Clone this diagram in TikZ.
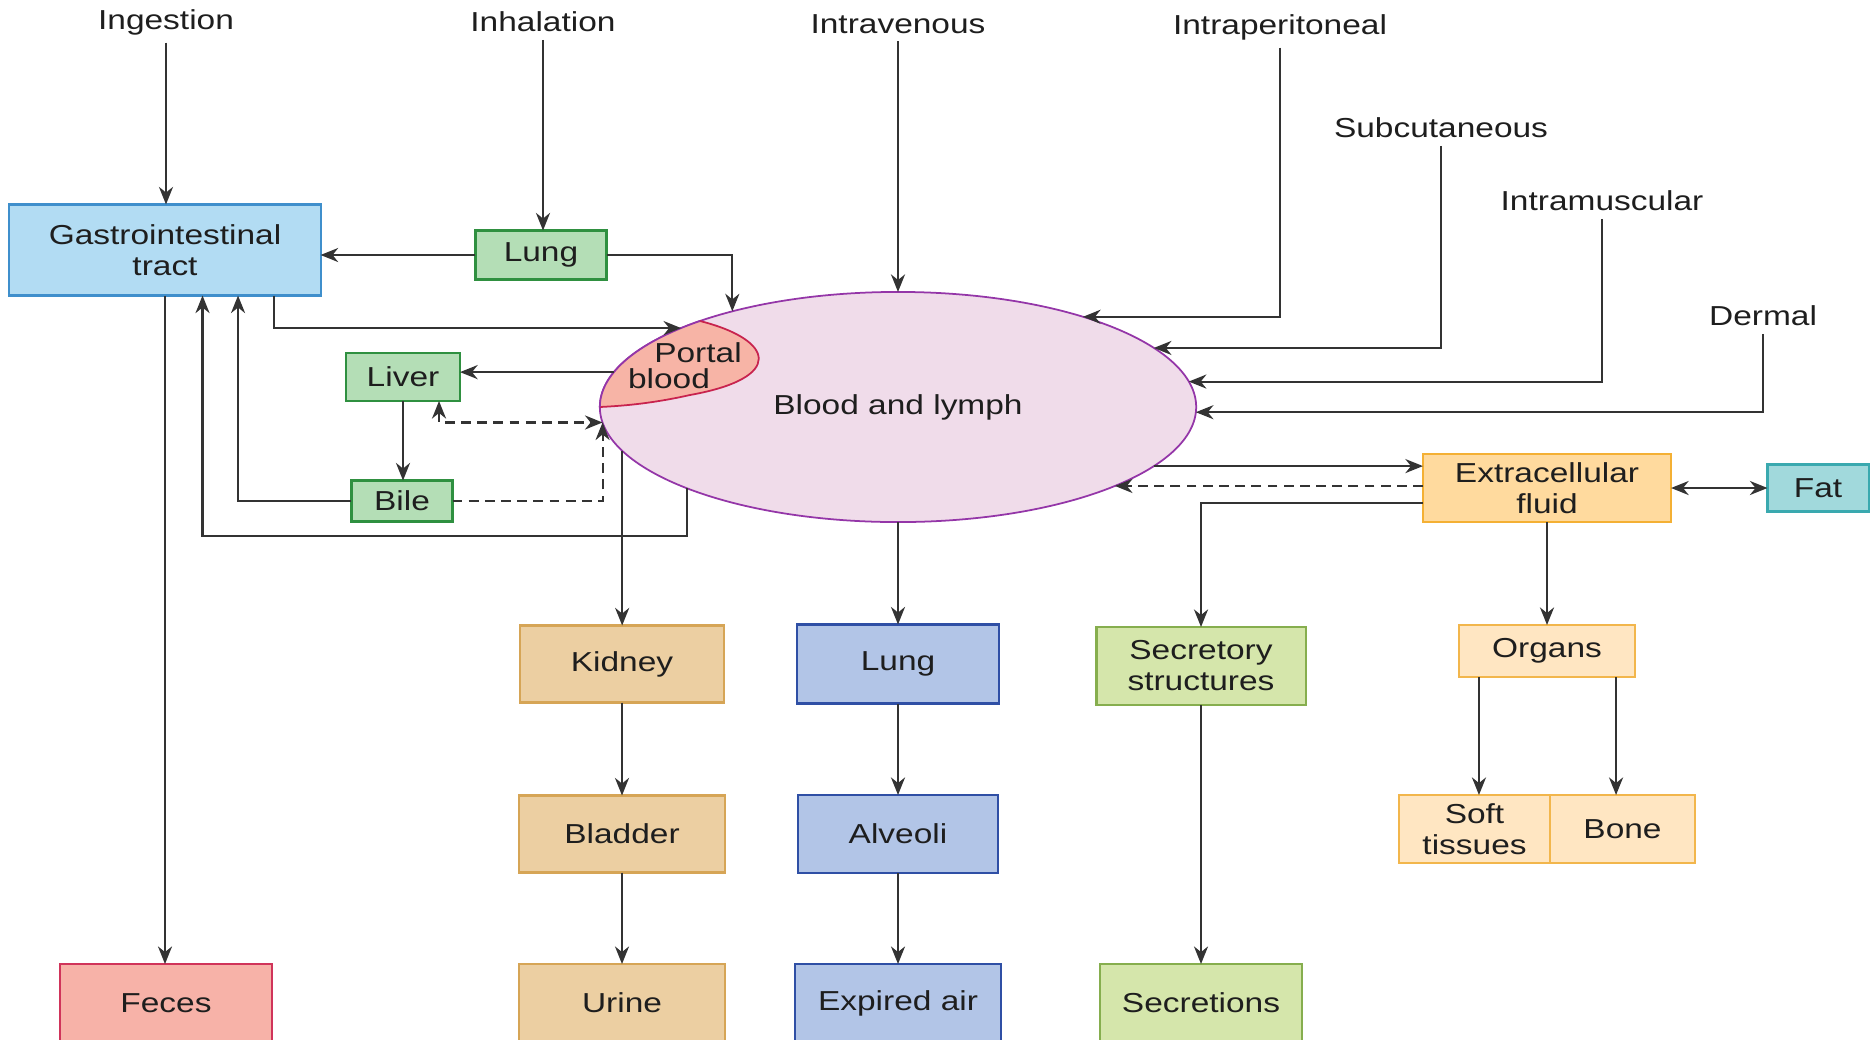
\documentclass[tikz,border=0pt]{standalone}
\usepackage{fontspec}
\setmainfont[FakeStretch=1.22]{Liberation Sans}
\usetikzlibrary{arrows.meta,shapes.geometric}

\definecolor{txt}{HTML}{1E1E1E}
\definecolor{wire}{HTML}{333333}
\definecolor{gifill}{HTML}{B2DCF3}
\definecolor{gidraw}{HTML}{3F8FCC}
\definecolor{greenfill}{HTML}{B4DEB6}
\definecolor{greendraw}{HTML}{2F9040}
\definecolor{bloodfill}{HTML}{F0DCEA}
\definecolor{blooddraw}{HTML}{9436A8}
\definecolor{portalfill}{HTML}{F7B4A6}
\definecolor{portaldraw}{HTML}{C8234E}
\definecolor{ecffill}{HTML}{FFDA9E}
\definecolor{ecfdraw}{HTML}{F4B034}
\definecolor{fatfill}{HTML}{A1D9DC}
\definecolor{fatdraw}{HTML}{3AA9AF}
\definecolor{kidfill}{HTML}{ECCFA2}
\definecolor{kiddraw}{HTML}{D6A556}
\definecolor{lungfill}{HTML}{B2C5E7}
\definecolor{lungdraw}{HTML}{2F4FA5}
\definecolor{secfill}{HTML}{D5E6AB}
\definecolor{secdraw}{HTML}{86AE4E}
\definecolor{orgfill}{HTML}{FFE6C2}
\definecolor{orgdraw}{HTML}{F2B64C}
\definecolor{fecfill}{HTML}{F7B2A8}
\definecolor{fecdraw}{HTML}{D0345A}

\newcommand{\diagfont}{\fontsize{7.8pt}{8.8pt}\selectfont}

\tikzset{
        lbl/.style={font=\diagfont, text=txt, inner sep=2pt, align=center},
        box/.style={draw, line width=0.6pt, outer sep=0pt, inner sep=1pt,
            font=\diagfont, text=txt, align=center},
        gibox/.style={box, fill=gifill, draw=gidraw},
        greenbox/.style={box, fill=greenfill, draw=greendraw},
        ecfbox/.style={box, fill=ecffill, draw=ecfdraw},
        fatbox/.style={box, fill=fatfill, draw=fatdraw},
        kidbox/.style={box, fill=kidfill, draw=kiddraw},
        lungbox/.style={box, fill=lungfill, draw=lungdraw},
        secbox/.style={box, fill=secfill, draw=secdraw},
        orgbox/.style={box, fill=orgfill, draw=orgdraw},
        fecbox/.style={box, fill=fecfill, draw=fecdraw},
        arr/.style={draw=wire, line width=0.6pt,
            -{Stealth[length=5pt,width=4pt,inset=1.6pt]}},
        twoarr/.style={draw=wire, line width=0.6pt,
            {Stealth[length=5pt,width=4pt,inset=1.6pt]}-{Stealth[length=5pt,width=4pt,inset=1.6pt]}},
        dashline/.style={dash pattern=on 2.8pt off 1.8pt}
}

\begin{document}
\begin{tikzpicture}[x=0.01cm, y=-0.01cm]
        \useasboundingbox (0,0) rectangle (1870,1039);

        % routes of entry
        \node[lbl] (ingestion) at (166,22) {Ingestion};
        \node[lbl] (inhalation) at (543,22) {Inhalation};
        \node[lbl] (intravenous) at (898,24) {Intravenous};
        \node[lbl] (intraperitoneal) at (1280,27) {Intraperitoneal};
        \node[lbl] (subcutaneous) at (1441,128) {Subcutaneous};
        \node[lbl] (intramuscular) at (1602,201) {Intramuscular};
        \node[lbl] (dermal) at (1763,316) {Dermal};

        \node[gibox, minimum width=3.11cm, minimum height=0.91cm] (gi) at (165,250) {Gastrointestinal\\tract};
        \node[greenbox, minimum width=1.31cm, minimum height=0.49cm] (lungin) at (541,255) {Lung};
        \node[greenbox, minimum width=1.14cm, minimum height=0.48cm] (liver) at (403,377) {Liver};
        \node[greenbox, minimum width=1.01cm, minimum height=0.41cm] (bile) at (402,501) {Bile};

        \node[ellipse, draw=blooddraw, fill=bloodfill, line width=0.5pt, minimum width=5.96cm,
            minimum height=2.30cm, inner sep=0pt, outer sep=0pt, font=\diagfont, text=txt] (blood) at (898,407) {Blood and lymph};
        \fill[portalfill] (blood.west) arc[start angle=180, end angle=131.6, x radius=2.98cm, y radius=1.15cm]
            .. controls (775,340) and (785,378) .. (690,395) .. controls (650,404) and (620,406) .. (blood.west);
        \draw[portaldraw, line width=0.5pt] (700,321) .. controls (775,340) and (785,378) .. (690,395)
            .. controls (650,404) and (620,406) .. (blood.west);
        \draw[blooddraw, line width=0.5pt] (blood.west) arc[start angle=180, end angle=131.6, x radius=2.98cm, y radius=1.15cm];
        \node[lbl] (portaltop) at (698,353) {Portal};
        \node[lbl] (portalbot) at (669,379) {blood};

        \node[ecfbox, minimum width=2.48cm, minimum height=0.68cm] (ecf) at (1547,488) {Extracellular\\fluid};
        \node[fatbox, minimum width=1.01cm, minimum height=0.47cm] (fat) at (1818,488) {Fat};

        % distribution and excretion
        \node[kidbox, minimum width=2.04cm, minimum height=0.77cm] (kidney) at (622,664) {Kidney};
        \node[lungbox, minimum width=2.02cm, minimum height=0.79cm] (lungout) at (898,664) {Lung};
        \node[secbox, minimum width=2.09cm, minimum height=0.78cm] (secr) at (1201,666) {Secretory\\structures};
        \node[orgbox, minimum width=1.76cm, minimum height=0.52cm] (organs) at (1547,651) {Organs};
        \node[kidbox, minimum width=2.06cm, minimum height=0.77cm] (bladder) at (622,834) {Bladder};
        \node[lungbox, minimum width=2.00cm, minimum height=0.78cm] (alveoli) at (898,834) {Alveoli};
        \node[orgbox, minimum width=1.51cm, minimum height=0.68cm] (soft) at (1474.5,829) {Soft\\tissues};
        \node[orgbox, minimum width=1.45cm, minimum height=0.68cm] (bone) at (1622.5,829) {Bone};
        \node[fecbox, anchor=north, minimum width=2.12cm, minimum height=0.78cm] (feces) at (166,964) {Feces};
        \node[kidbox, anchor=north, minimum width=2.06cm, minimum height=0.78cm] (urine) at (622,964) {Urine};
        \node[lungbox, anchor=north, minimum width=2.06cm, minimum height=0.78cm] (expired) at (898,964) {Expired air};
        \node[secbox, anchor=north, minimum width=2.02cm, minimum height=0.78cm] (secretions) at (1201,964) {Secretions};

        \draw[arr] (ingestion.south) -- (ingestion.south |- gi.north);
        \draw[arr] (inhalation.south) -- (inhalation.south |- lungin.north);
        \draw[arr] (intravenous.south) -- (blood.north);
        \draw[arr] (intraperitoneal.south) |- (blood.26);
        \draw[arr] (subcutaneous.south) |- (blood.13);
        \draw[arr] (intramuscular.south) |- (blood.5);
        \draw[arr] (dermal.south) |- (blood.359);

        \draw[arr] (lungin.west) -- (lungin.west -| gi.east);
        \draw[arr] (lungin.east) -| (blood.150);
        \draw[arr] ([xshift=1.09cm]gi.south) |- (blood.160);
        \draw[arr] (blood.173) -- (blood.173 -| liver.east);
        \draw[arr] (liver.south) -- (liver.south |- bile.north);
        \draw[arr] (bile.west) -| ([xshift=0.73cm]gi.south);
        \draw[arr] (blood.201) -- ++(0,48) -| ([xshift=0.375cm]gi.south);
        \draw[arr, dashline] (bile.east) -| (blood.183);
        \draw[twoarr, dashline] ([xshift=0.36cm]liver.south) |- (blood.183);
        \draw[arr] (gi.south) -- (gi.south |- feces.north);

        \draw[arr] (blood.189) -- (blood.189 |- kidney.north);
        \draw[arr] (kidney.south) -- (bladder.north);
        \draw[arr] (bladder.south) -- (urine.north);
        \draw[arr] (blood.south) -- (lungout.north);
        \draw[arr] (lungout.south) -- (alveoli.north);
        \draw[arr] (alveoli.south) -- (expired.north);

        \draw[arr] (blood.347) -- (blood.347 -| ecf.west);
        \draw[arr, dashline] (ecf.west |- blood.340) -- (blood.340);
        \draw[arr] ([yshift=-0.15cm]ecf.west) -| (secr.north);
        \draw[arr] (secr.south) -- (secretions.north);
        \draw[twoarr] (ecf.east) -- (fat.west);
        \draw[arr] (ecf.south) -- (organs.north);
        \draw[arr] ([xshift=-0.68cm]organs.south) -- ([xshift=-0.68cm]organs.south |- soft.north);
        \draw[arr] ([xshift=0.69cm]organs.south) -- ([xshift=0.69cm]organs.south |- bone.north);
\end{tikzpicture}
\end{document}
